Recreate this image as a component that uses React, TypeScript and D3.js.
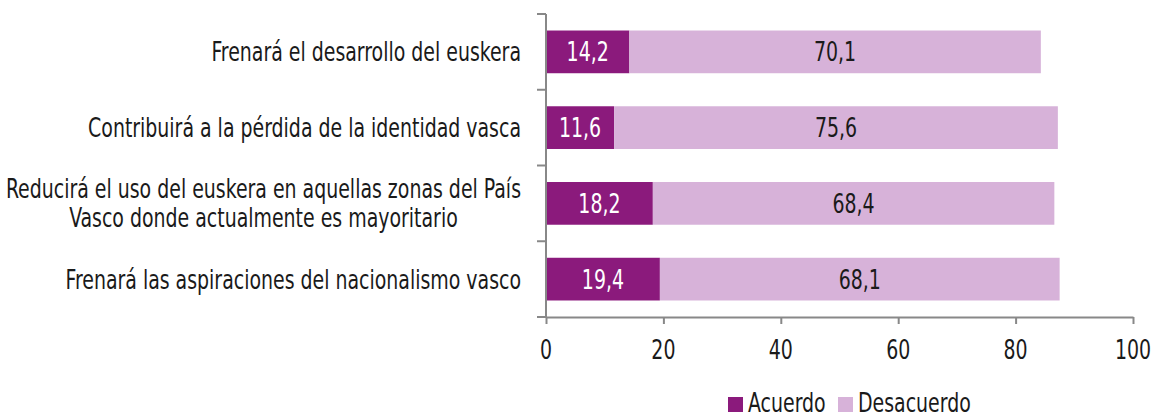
import React, { useRef, useEffect } from 'react'
import * as d3 from 'd3'

// Barras apiladas horizontales: acuerdo / desacuerdo por afirmación
const categories: string[][] = [
  ['Frenará el desarrollo del euskera'],
  ['Contribuirá a la pérdida de la identidad vasca'],
  ['Reducirá el uso del euskera en aquellas zonas del País', 'Vasco donde actualmente es mayoritario'],
  ['Frenará las aspiraciones del nacionalismo vasco'],
]
const acuerdo = [14.2, 11.6, 18.2, 19.4]
const desacuerdo = [70.1, 75.6, 68.4, 68.1]
const xTicks = [0, 20, 40, 60, 80, 100]
const seriesNames = ['Acuerdo', 'Desacuerdo']

const W = 1154
const H = 415
const FONT = '"DejaVu Sans Condensed", "DejaVu Sans", sans-serif'
const FS = 26
const SX = 0.81 // estrechar la letra para imitar una condensada
const COLORS = ['#8b1a7c', '#d7b2d9']
const AXIS = '#888888'
const TEXT = '#1a1a1a'

type Sel = d3.Selection<SVGGElement, unknown, null, undefined>

// texto estrechado horizontalmente alrededor de su punto de anclaje
function addText(parent: Sel, x: number, y: number, lines: string[], anchor: string, fill: string, lh = 29) {
  const t = parent.append('text')
    .attr('transform', `translate(${x},${y}) scale(${SX},1)`)
    .attr('text-anchor', anchor)
    .attr('fill', fill)
    .style('font-family', FONT)
    .style('font-size', `${FS}px`)
  lines.forEach((ln, j) => {
    t.append('tspan')
      .attr('x', 0)
      .attr('y', (j - (lines.length - 1) / 2) * lh)
      .attr('dy', '0.36em')
      .text(ln)
  })
  return t
}

export default function App() {
  const svgRef = useRef<SVGSVGElement>(null)

  useEffect(() => {
    const svg = d3.select(svgRef.current)
    svg.selectAll('*').remove()

    const left = 546
    const right = 1133
    const top = 14
    const bottom = 317

    const x = d3.scaleLinear().domain([0, 100]).range([left, right])
    const y = d3
      .scaleBand<number>()
      .domain(d3.range(categories.length))
      .range([top, bottom])
      .paddingInner(0.436)
      .paddingOuter(0.218)

    const g = svg.append('g') as unknown as Sel

    // barras
    categories.forEach((_, i) => {
      const segs = [
        { k: 0, x0: 0, x1: acuerdo[i] },
        { k: 1, x0: acuerdo[i], x1: acuerdo[i] + desacuerdo[i] },
      ]
      segs.forEach((s) => {
        g.append('rect')
          .attr('x', x(s.x0))
          .attr('y', y(i)!)
          .attr('width', x(s.x1) - x(s.x0))
          .attr('height', y.bandwidth())
          .attr('fill', COLORS[s.k])
        addText(
          g,
          (x(s.x0) + x(s.x1)) / 2,
          y(i)! + y.bandwidth() / 2,
          [d3.format('.1f')(s.x1 - s.x0).replace('.', ',')],
          'middle',
          s.k === 0 ? '#ffffff' : TEXT,
        )
      })
    })

    // eje vertical con marcas entre categorías
    const step = (bottom - top) / categories.length
    g.append('line')
      .attr('x1', left).attr('x2', left)
      .attr('y1', top).attr('y2', bottom)
      .attr('stroke', AXIS).attr('stroke-width', 2)
    d3.range(categories.length + 1).forEach((i) => {
      const yy = top + step * i
      g.append('line')
        .attr('x1', left - 9).attr('x2', left)
        .attr('y1', yy).attr('y2', yy)
        .attr('stroke', AXIS).attr('stroke-width', 2)
    })

    // eje horizontal
    const ax = g.append('g')
      .attr('transform', `translate(0, ${bottom})`)
      .call(d3.axisBottom(x).tickValues(xTicks).tickSize(7).tickSizeOuter(0).tickFormat(() => ''))
    ax.select('.domain').attr('stroke', AXIS).attr('stroke-width', 2)
    ax.selectAll('.tick line').attr('stroke', AXIS).attr('stroke-width', 2)
    xTicks.forEach((v) => addText(g, x(v), 350, [String(v)], 'middle', TEXT))

    // etiquetas de categoría
    const labelRight = 521
    categories.forEach((lines, i) => {
      const cy = y(i)! + y.bandwidth() / 2
      const t = addText(g, labelRight, cy, lines, lines.length === 1 ? 'end' : 'middle', TEXT)
      if (lines.length > 1) {
        const maxW = d3.max(t.selectAll<SVGTSpanElement, unknown>('tspan').nodes(), (n) => n.getComputedTextLength()) || 0
        t.attr('transform', `translate(${labelRight - (maxW * SX) / 2},${cy}) scale(${SX},1)`)
      }
    })

    // leyenda
    const legX = [728, 838]
    seriesNames.forEach((name, k) => {
      g.append('rect')
        .attr('x', legX[k]).attr('y', 397)
        .attr('width', 15).attr('height', 15)
        .attr('fill', COLORS[k])
      addText(g, legX[k] + 20, 403, [name], 'start', TEXT)
    })
  }, [])

  return (
    <svg
      ref={svgRef}
      width={W}
      height={H}
      viewBox={`0 0 ${W} ${H}`}
      style={{ position: 'absolute', left: 0, top: 0, background: '#fff' }}
    />
  )
}
